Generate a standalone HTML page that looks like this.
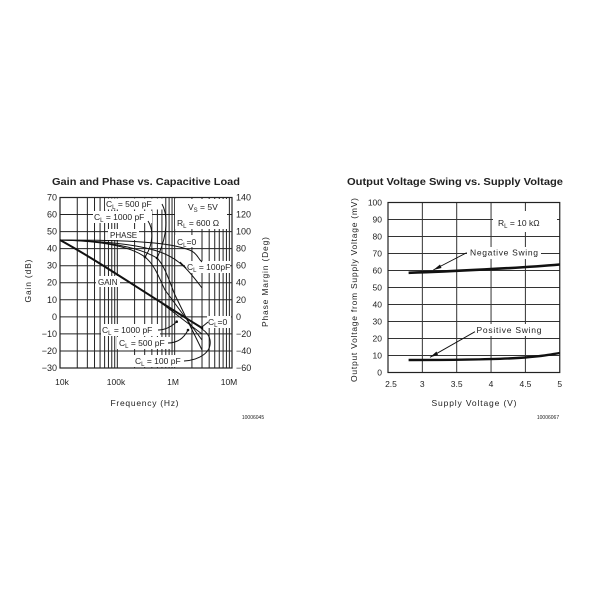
<!DOCTYPE html>
<html><head><meta charset="utf-8"><style>
html,body{margin:0;padding:0;background:#fff;}
svg{display:block;}
text{font-family:"Liberation Sans",Arial,sans-serif;fill:#222;}
</style></head><body>
<svg width="600" height="600" viewBox="0 0 600 600" xmlns="http://www.w3.org/2000/svg">
<rect width="600" height="600" fill="#fff"/>

<!-- ============ LEFT CHART ============ -->
<text x="146" y="185" font-size="10" font-weight="bold" text-anchor="middle" textLength="188" lengthAdjust="spacingAndGlyphs">Gain and Phase vs. Capacitive Load</text>

<g stroke="#222" stroke-width="1" fill="none">
  <path d="M77.26,197.5V368M87.35,197.5V368M94.52,197.5V368M100.07,197.5V368M104.61,197.5V368M108.45,197.5V368M111.77,197.5V368M114.71,197.5V368
  M117.33,197.5V368M134.59,197.5V368M144.68,197.5V368M151.85,197.5V368M157.4,197.5V368M161.94,197.5V368M165.78,197.5V368M169.1,197.5V368M172.04,197.5V368
  M174.66,197.5V368M191.92,197.5V368M202.01,197.5V368M209.18,197.5V368M214.73,197.5V368M219.27,197.5V368M223.11,197.5V368M226.43,197.5V368M229.37,197.5V368"/>
  <path d="M60,214.55H232M60,231.6H232M60,248.65H232M60,265.7H232M60,282.75H232M60,299.8H232M60,316.85H232M60,333.9H232M60,350.95H232"/>
</g>
<rect x="60" y="197.5" width="172" height="170.5" fill="none" stroke="#222" stroke-width="1.2"/>

<g fill="#fff">
  <rect x="105" y="198.5" width="59" height="11"/>
  <rect x="93" y="211" width="59" height="12"/>
  <rect x="108" y="229" width="31" height="11"/>
  <rect x="175" y="199" width="52" height="30"/>
  <rect x="175" y="235" width="23" height="12"/>
  <rect x="185" y="261" width="45" height="12"/>
  <rect x="96" y="276" width="24" height="11"/>
  <rect x="101" y="324" width="59" height="12"/>
  <rect x="117" y="337" width="53" height="12"/>
  <rect x="133" y="355" width="53" height="12"/>
  <rect x="207" y="316" width="24" height="12"/>
</g>

<g fill="none" stroke="#111" stroke-width="1">
  <path d="M60,240 C110,240 150,241 175,246 S195,256 202,262"/>
  <path d="M60,240 C110,241 140,245 160,252 S190,272 202,288"/>
  <path d="M60,240 C100,241 130,246 145,257 C155,265 160,280 165,290 L202,340"/>
  <path d="M60,240 C110,241 140,248 157,258 C165,266 170,283 175,295 L202,350"/>
  <path d="M160,302 L202,334"/>
  <path d="M162,204 C168,215 168,235 157,258"/>
  <path d="M148,221 C154,230 153,245 145,257"/>
  <path d="M186,268 L180,262"/>
  <path d="M158,330 C166,330 172,326 176.7,321.7"/>
  <path d="M168,343 C178,343 184,338 188,330"/>
  <path d="M184,361 C200,360 212,352 210,340 C209,334 205,331 202,329"/>
  <path d="M208,322 L202,327"/>
</g>
<path d="M60,240 C100,262 140,290 202,328" fill="none" stroke="#111" stroke-width="2"/>
<g fill="#111">
  <circle cx="157" cy="258" r="1.3"/>
  <circle cx="145" cy="257" r="1.3"/>
  <circle cx="176.7" cy="321.7" r="1.3"/>
  <circle cx="188" cy="330" r="1.3"/>
  <circle cx="202" cy="328" r="1.3"/>
</g>

<g font-size="8.5">
  <text x="106" y="207">C<tspan font-size="6" dy="2">L</tspan><tspan dy="-2"> = 500 pF</tspan></text>
  <text x="94" y="220">C<tspan font-size="6" dy="2">L</tspan><tspan dy="-2"> = 1000 pF</tspan></text>
  <text x="110" y="238" font-size="8">PHASE</text>
  <text x="188" y="210">V<tspan font-size="6" dy="2">S</tspan><tspan dy="-2"> = 5V</tspan></text>
  <text x="177" y="226">R<tspan font-size="6" dy="2">L</tspan><tspan dy="-2"> = 600 Ω</tspan></text>
  <text x="177" y="245">C<tspan font-size="6" dy="2">L</tspan><tspan dy="-2">=0</tspan></text>
  <text x="187" y="270">C<tspan font-size="6" dy="2">L</tspan><tspan dy="-2"> = 100pF</tspan></text>
  <text x="98" y="285" font-size="8">GAIN</text>
  <text x="102" y="333">C<tspan font-size="6" dy="2">L</tspan><tspan dy="-2"> = 1000 pF</tspan></text>
  <text x="119" y="346">C<tspan font-size="6" dy="2">L</tspan><tspan dy="-2"> = 500 pF</tspan></text>
  <text x="135" y="364">C<tspan font-size="6" dy="2">L</tspan><tspan dy="-2"> = 100 pF</tspan></text>
  <text x="208" y="325">C<tspan font-size="6" dy="2">L</tspan><tspan dy="-2">=0</tspan></text>
</g>

<g font-size="9" text-anchor="end">
  <text x="57" y="200.5">70</text>
  <text x="57" y="217.5">60</text>
  <text x="57" y="234.6">50</text>
  <text x="57" y="251.6">40</text>
  <text x="57" y="268.7">30</text>
  <text x="57" y="285.7">20</text>
  <text x="57" y="302.8">10</text>
  <text x="57" y="319.8">0</text>
  <text x="57" y="336.9">−10</text>
  <text x="57" y="353.9">−20</text>
  <text x="57" y="371">−30</text>
</g>
<g font-size="9" text-anchor="start">
  <text x="236" y="200.5">140</text>
  <text x="236" y="217.5">120</text>
  <text x="236" y="234.6">100</text>
  <text x="236" y="251.6">80</text>
  <text x="236" y="268.7">60</text>
  <text x="236" y="285.7">40</text>
  <text x="236" y="302.8">20</text>
  <text x="236" y="319.8">0</text>
  <text x="236" y="336.9">−20</text>
  <text x="236" y="353.9">−40</text>
  <text x="236" y="371">−60</text>
</g>
<g font-size="8.5" text-anchor="middle">
  <text x="62" y="385">10k</text>
  <text x="116" y="385">100k</text>
  <text x="173" y="385">1M</text>
  <text x="229" y="385">10M</text>
</g>
<text x="144.5" y="406" font-size="8.5" text-anchor="middle" textLength="68" lengthAdjust="spacing">Frequency (Hz)</text>
<text transform="translate(31,281) rotate(-90)" font-size="8.5" text-anchor="middle" textLength="43" lengthAdjust="spacing">Gain (dB)</text>
<text transform="translate(268,282) rotate(-90)" font-size="8.5" text-anchor="middle" textLength="90" lengthAdjust="spacing">Phase Margin (Deg)</text>
<text x="253" y="419" font-size="5" text-anchor="middle">10006045</text>

<!-- ============ RIGHT CHART ============ -->
<text x="455" y="185" font-size="10" font-weight="bold" text-anchor="middle" textLength="216" lengthAdjust="spacingAndGlyphs">Output Voltage Swing vs. Supply Voltage</text>

<g stroke="#333" stroke-width="1" fill="none">
  <path d="M422.35,202.5V372.5M456.7,202.5V372.5M491.05,202.5V372.5M525.4,202.5V372.5"/>
  <path d="M388,355.5H559.75M388,338.5H559.75M388,321.5H559.75M388,304.5H559.75M388,287.5H559.75M388,270.5H559.75M388,253.5H559.75M388,236.5H559.75M388,219.5H559.75"/>
</g>
<rect x="388" y="202.5" width="171.75" height="170" fill="none" stroke="#222" stroke-width="1.2"/>

<g fill="#fff">
  <rect x="493" y="211" width="64" height="21"/>
  <rect x="467" y="247" width="74" height="12"/>
  <rect x="473" y="324" width="72" height="12"/>
</g>

<path d="M408.6,272.8 C450,271.5 520,268 559.7,264.5" fill="none" stroke="#111" stroke-width="2.6"/>
<path d="M408.6,360 C460,360 500,359.5 525,357.5 S550,354.5 559.7,353" fill="none" stroke="#111" stroke-width="2.4"/>

<g fill="none" stroke="#111" stroke-width="0.9">
  <path d="M466.7,252.7 L433.3,270"/>
  <path d="M475,331.7 L430,357.3"/>
</g>
<path d="M433.3,270 L440,264.5 L441.5,268 Z" fill="#111"/>
<path d="M430,357.3 L436.5,351.5 L438,355 Z" fill="#111"/>

<g font-size="8.5">
  <text x="498" y="226">R<tspan font-size="6" dy="2">L</tspan><tspan dy="-2">  =  10 kΩ</tspan></text>
  <text x="470" y="255.5" textLength="68" lengthAdjust="spacing">Negative Swing</text>
  <text x="476.5" y="333" textLength="65" lengthAdjust="spacing">Positive Swing</text>
</g>

<g font-size="8.5" text-anchor="end">
  <text x="382" y="205.5">100</text>
  <text x="382" y="222.5">90</text>
  <text x="382" y="239.5">80</text>
  <text x="382" y="256.5">70</text>
  <text x="382" y="273.5">60</text>
  <text x="382" y="290.5">50</text>
  <text x="382" y="307.5">40</text>
  <text x="382" y="324.5">30</text>
  <text x="382" y="341.5">20</text>
  <text x="382" y="358.5">10</text>
  <text x="382" y="375.5">0</text>
</g>
<g font-size="8.5" text-anchor="middle">
  <text x="391" y="387">2.5</text>
  <text x="422.3" y="387">3</text>
  <text x="456.7" y="387">3.5</text>
  <text x="491" y="387">4</text>
  <text x="525.4" y="387">4.5</text>
  <text x="559.7" y="387">5</text>
</g>
<text x="474" y="406" font-size="8.5" text-anchor="middle" textLength="85" lengthAdjust="spacing">Supply Voltage (V)</text>
<text transform="translate(357,290) rotate(-90)" font-size="8.5" text-anchor="middle" textLength="184" lengthAdjust="spacing">Output Voltage from Supply Voltage (mV)</text>
<text x="548" y="419" font-size="5" text-anchor="middle">10006067</text>
</svg>
</body></html>
